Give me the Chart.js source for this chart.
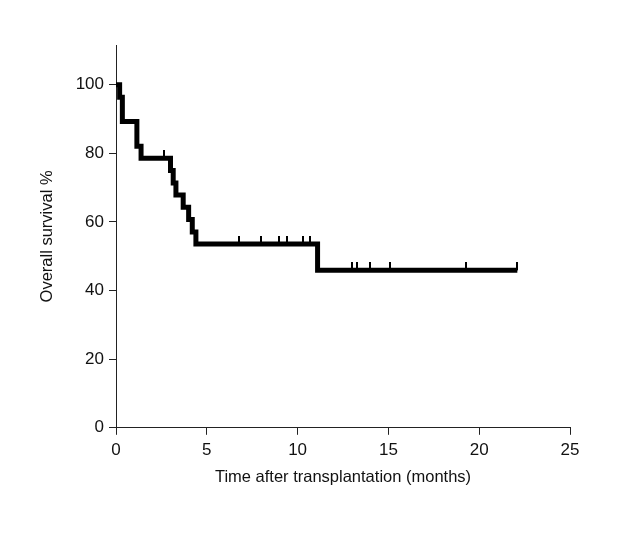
<!DOCTYPE html>
<html>
<head>
<meta charset="utf-8">
<script src="https://cdn.jsdelivr.net/npm/chart.js@4"></script>
<style>
  html, body { margin: 0; padding: 0; background: #ffffff; }
  #wrap { width: 620px; height: 540px; }
</style>
</head>
<body>
<div id="wrap"><canvas id="km" width="620" height="540"></canvas></div>
<script>
// Kaplan-Meier steps (time in months, survival in %)
const eventTimes = [0, 0.2, 0.35, 1.15, 1.38, 3.0, 3.15, 3.3, 3.7, 4.0, 4.2, 4.4, 11.1, 22.1];
const survival   = [100, 96.4, 89.3, 82.1, 78.6, 75.0, 71.4, 67.9, 64.3, 60.7, 57.1, 53.6, 45.9, 45.9];

// censored patients
const censorTimes = [2.65, 6.8, 8.0, 9.0, 9.4, 10.3, 10.7, 13.0, 13.25, 14.0, 15.1, 19.3, 22.1];
const censorSurv  = [78.6, 53.6, 53.6, 53.6, 53.6, 53.6, 53.6, 45.9, 45.9, 45.9, 45.9, 45.9, 45.9];

const xTicks = [0, 5, 10, 15, 20, 25];
const yTicks = [0, 20, 40, 60, 80, 100];

const FONT = "'Liberation Sans Narrow', 'Liberation Sans', Arial, sans-serif";
const tickFont = { family: FONT, size: 17 };
const titleFont = { family: FONT, size: 16.5 };

// small upward tick used as the censor marker
const censorMark = document.createElement('canvas');
censorMark.width = 2;
censorMark.height = 16;
const mctx = censorMark.getContext('2d');
mctx.fillStyle = '#000';
mctx.fillRect(0, 0, 2, 8);

const curve = eventTimes.map((t, i) => ({ x: t, y: survival[i] }));
const censored = censorTimes.map((t, i) => ({ x: t, y: censorSurv[i] }));

new Chart(document.getElementById('km'), {
  type: 'line',
  data: {
    datasets: [
      {
        data: curve,
        stepped: 'before',
        borderColor: '#000',
        borderWidth: 5,
        borderJoinStyle: 'miter',
        borderCapStyle: 'butt',
        pointRadius: 0,
        fill: false
      },
      {
        data: censored,
        showLine: false,
        pointStyle: censorMark,
        pointRadius: 4
      }
    ]
  },
  options: {
    responsive: false,
    animation: false,
    layout: { padding: { left: 38, right: 50, top: 45, bottom: 53 } },
    plugins: { legend: { display: false }, tooltip: { enabled: false } },
    scales: {
      x: {
        type: 'linear',
        min: 0,
        max: 25,
        afterBuildTicks: s => { s.ticks = xTicks.map(v => ({ value: v })); },
        grid: { drawOnChartArea: false, tickLength: 7, color: '#222', tickColor: '#222' },
        border: { color: '#222', width: 1 },
        ticks: { color: '#111', padding: 5, font: tickFont },
        title: {
          display: true,
          text: 'Time after transplantation (months)',
          color: '#111',
          padding: { top: 2, bottom: 0 },
          font: titleFont
        }
      },
      y: {
        min: 0,
        max: 111.6,
        afterBuildTicks: s => { s.ticks = yTicks.map(v => ({ value: v })); },
        afterFit: s => { s.width = 116 - 38; },
        grid: { drawOnChartArea: false, tickLength: 7, color: '#222', tickColor: '#222' },
        border: { color: '#222', width: 1 },
        ticks: { color: '#111', padding: 5, font: tickFont },
        title: {
          display: true,
          text: 'Overall survival %',
          color: '#111',
          padding: 0,
          font: titleFont
        }
      }
    }
  }
});
</script>
</body>
</html>
